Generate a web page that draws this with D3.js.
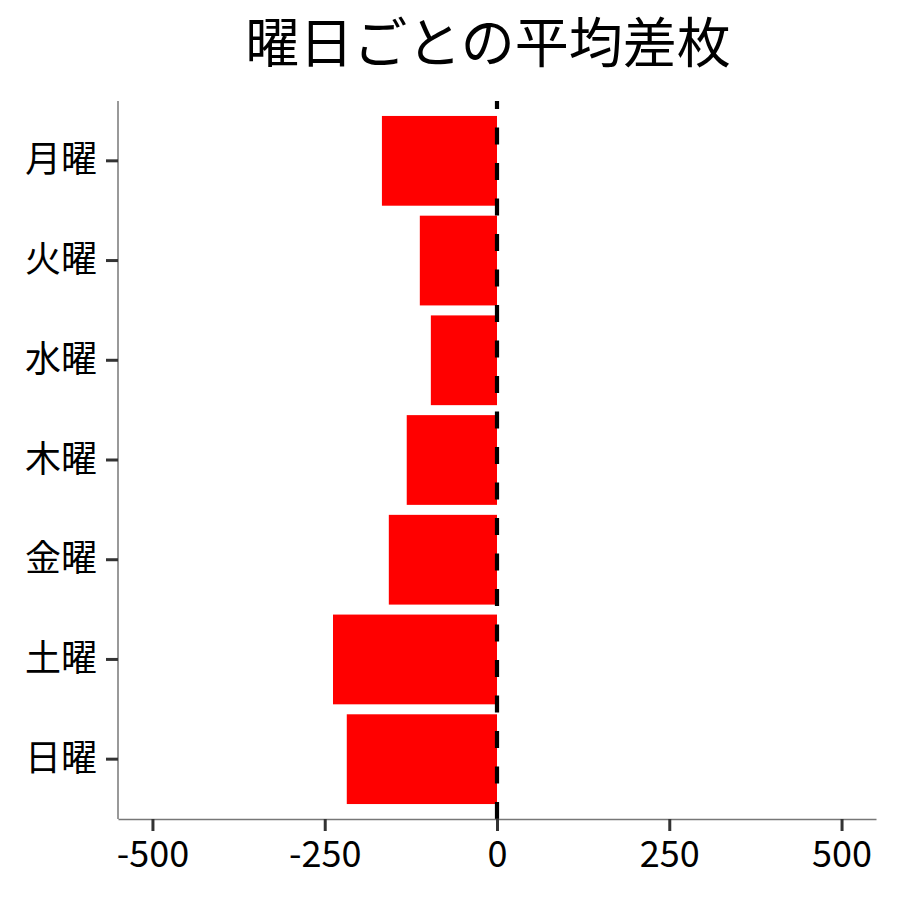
<!DOCTYPE html>
<meta charset="utf-8">
<title>曜日ごとの平均差枚</title>
<style>
    body {
        margin: 0;
        background: #fff;
    }

    text {
        font-family: "Noto Sans CJK JP", "Noto Sans", sans-serif;
    }
</style>
<body>
<script src="https://cdnjs.cloudflare.com/ajax/libs/d3/7.8.5/d3.min.js"></script>
<script>
    var days = ["月曜", "火曜", "水曜", "木曜", "金曜", "土曜", "日曜"];
    var diffs = [-167, -112, -96, -131, -157, -238, -218];
    var xTicks = [-500, -250, 0, 250, 500];
    var title = "曜日ごとの平均差枚";

    var W = 900, H = 900;
    var padL = 118, padR = 876, padT = 101, padB = 819;

    var svg = d3.select("body").append("svg")
        .attr("width", W)
        .attr("height", H);

    var x = d3.scaleLinear().domain([-550, 550]).range([padL, padR]);

    // ggplot style discrete axis: 0.6 of a step padding on both ends
    var step = (padB - padT) / (days.length - 1 + 1.2);
    var y = d3.scaleBand()
        .domain(days)
        .range([padT + 0.1 * step, padB - 0.1 * step])
        .paddingInner(0.1)
        .paddingOuter(0.05);

    svg.selectAll("rect.bar")
        .data(days)
        .enter()
        .append("rect")
        .attr("class", "bar")
        .attr("x", function (d, i) { return x(Math.min(0, diffs[i])); })
        .attr("y", function (d) { return y(d); })
        .attr("width", function (d, i) { return Math.abs(x(diffs[i]) - x(0)); })
        .attr("height", y.bandwidth())
        .attr("fill", "#ff0000");

    // dashed zero line, drawn bottom to top like grid does
    svg.append("line")
        .attr("x1", x(0)).attr("x2", x(0))
        .attr("y1", padB).attr("y2", padT)
        .attr("stroke", "#000")
        .attr("stroke-width", 4.2)
        .attr("stroke-dasharray", "17,18.5");

    var xAxis = svg.append("g")
        .attr("transform", "translate(0," + padB + ")")
        .call(d3.axisBottom(x).tickValues(xTicks).tickSize(12).tickSizeOuter(0).tickPadding(10)
            .tickFormat(function (d) { return String(d); }));

    var yAxis = svg.append("g")
        .attr("transform", "translate(" + padL + ",0)")
        .call(d3.axisLeft(y).tickSize(12).tickSizeOuter(0).tickPadding(9));

    yAxis.select(".domain").attr("d", "M0," + padT + "V" + padB);

    [xAxis, yAxis].forEach(function (g) {
        g.select(".domain").attr("stroke", "#777").attr("stroke-width", 1.5);
        g.selectAll(".tick line").attr("stroke", "#333").attr("stroke-width", 3);
        g.selectAll(".tick text")
            .attr("fill", "#000")
            .style("font-size", "36px")
            .style("font-family", "'Noto Sans CJK JP', 'Noto Sans', sans-serif");
    });

    svg.append("text")
        .attr("x", (padL + padR) / 2 - 9)
        .attr("y", 63)
        .attr("text-anchor", "middle")
        .style("font-size", "54px")
        .attr("fill", "#000")
        .text(title);
</script>
</body>
